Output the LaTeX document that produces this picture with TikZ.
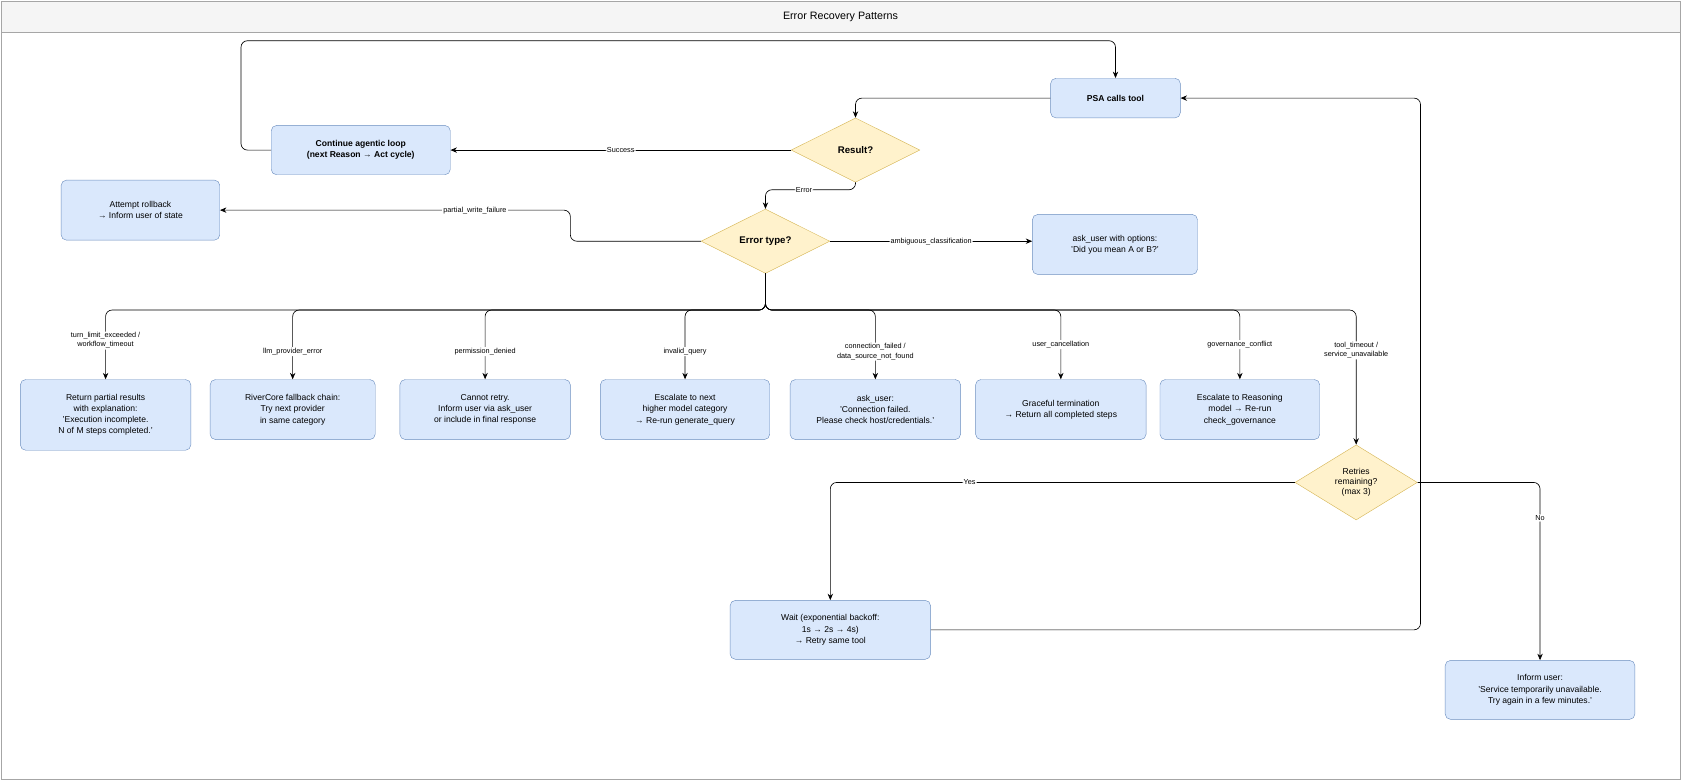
\documentclass[tikz,border=0pt]{standalone}
\usepackage{fontspec}
\setmainfont{Liberation Sans}
\usetikzlibrary{shapes.geometric,arrows.meta}
\definecolor{bfill}{HTML}{DAE8FC}
\definecolor{bdraw}{HTML}{6C8EBF}
\definecolor{yfill}{HTML}{FFF2CC}
\definecolor{ydraw}{HTML}{D6B656}
\tikzset{
  box/.style={draw=bdraw,fill=bfill,rounded corners=5pt,align=center,font=\fontsize{8}{10.5}\selectfont,inner sep=0pt},
  dec/.style={draw=ydraw,fill=yfill,diamond,aspect=2,align=center,inner sep=0pt,font=\fontsize{9}{10}\selectfont\bfseries},
  flow/.style={-{Stealth[length=6pt,width=5pt]},rounded corners=6pt,semithick},
  lbl/.style={fill=white,inner sep=1pt,align=center,font=\fontsize{6.8}{8.5}\selectfont}
}
\begin{document}
\begin{tikzpicture}[x=1pt,y=-1pt]
  \useasboundingbox (0,0) rectangle (1568,730);
  % frame and title
  \draw[gray!70,fill=gray!8] (1,1) rectangle (1567,30);
  \draw[gray!70] (1,30) rectangle (1567,727);
  \node[font=\fontsize{10}{12}\selectfont] (title) at (784,16) {Error Recovery Patterns};

  % main nodes
  \node[box,font=\fontsize{8}{10.5}\selectfont\bfseries,minimum width=121pt,minimum height=37pt] (psa) at (1040.5,91.5) {PSA calls tool};
  \node[dec,minimum width=120pt,minimum height=60pt] (res) at (798,140) {Result?};
  \node[box,font=\fontsize{8}{10.5}\selectfont\bfseries,minimum width=167pt,minimum height=46pt] (cont) at (336.5,140) {Continue agentic loop\\(next Reason → Act cycle)};
  \node[dec,minimum width=120pt,minimum height=60pt] (etype) at (714,225) {Error type?};
  \node[box,minimum width=148pt,minimum height=56pt] (roll) at (131,196) {Attempt rollback\\→ Inform user of state};
  \node[box,minimum width=154pt,minimum height=56pt] (ask) at (1040,228) {ask\_user with options:\\'Did you mean A or B?'};

  % bottom row
  \node[box,minimum width=159pt,minimum height=66pt] (part) at (98.5,387) {Return partial results\\with explanation:\\'Execution incomplete.\\N of M steps completed.'};
  \node[box,minimum width=154pt,minimum height=56pt] (llm) at (273,382) {RiverCore fallback chain:\\Try next provider\\in same category};
  \node[box,minimum width=159pt,minimum height=56pt] (perm) at (452.5,382) {Cannot retry.\\Inform user via ask\_user\\or include in final response};
  \node[box,minimum width=158pt,minimum height=56pt] (inv) at (639,382) {Escalate to next\\higher model category\\→ Re-run generate\_query};
  \node[box,minimum width=159pt,minimum height=56pt] (conn) at (816.5,382) {ask\_user:\\'Connection failed.\\Please check host/credentials.'};
  \node[box,minimum width=159pt,minimum height=56pt] (canc) at (989.5,382) {Graceful termination\\→ Return all completed steps};
  \node[box,minimum width=149pt,minimum height=56pt] (gov) at (1156.5,382) {Escalate to Reasoning\\model → Re-run\\check\_governance};
  \node[dec,font=\fontsize{8}{9.5}\selectfont,minimum width=114pt,minimum height=70pt] (retry) at (1265,450) {Retries\\remaining?\\(max 3)};
  \node[box,minimum width=187pt,minimum height=55pt] (wait) at (774.5,587.5) {Wait (exponential backoff:\\1s → 2s → 4s)\\→ Retry same tool};
  \node[box,minimum width=177pt,minimum height=55pt] (inform) at (1436.5,643.5) {Inform user:\\'Service temporarily unavailable.\\Try again in a few minutes.'};

  % connectors
  \draw[flow] (cont.west) -- ++(-28,0) |- (630,38) -| (psa.north);
  \draw[flow] (psa.west) -| (res.north);
  \draw[flow] (res.west) -- (cont.east) node[lbl,pos=0.5] {Success};
  \draw[flow] (res.south) |- (750,177) node[lbl] {Error} -| (etype.north);
  \draw[flow] (etype.west) -| (532,196) -- (roll.east);
  \node[lbl] (pwf) at (443,196) {partial\_write\_failure};
  \draw[flow] (etype.east) -- (etype.east -| ask.west) node[lbl,pos=0.5] {ambiguous\_classification};

  \draw[flow] (etype.south) -- ++(0,34) -| (part.north) node[lbl,pos=0.72] {turn\_limit\_exceeded /\\workflow\_timeout};
  \draw[flow] (etype.south) -- ++(0,34) -| (llm.north) node[lbl,pos=0.8] {llm\_provider\_error};
  \draw[flow] (etype.south) -- ++(0,34) -| (perm.north) node[lbl,pos=0.8] {permission\_denied};
  \draw[flow] (etype.south) -- ++(0,34) -| (inv.north) node[lbl,pos=0.8] {invalid\_query};
  \draw[flow] (etype.south) -- ++(0,34) -| (conn.north) node[lbl,pos=0.8] {connection\_failed /\\data\_source\_not\_found};
  \draw[flow] (etype.south) -- ++(0,34) -| (canc.north) node[lbl,pos=0.75] {user\_cancellation};
  \draw[flow] (etype.south) -- ++(0,34) -| (gov.north) node[lbl,pos=0.75] {governance\_conflict};
  \draw[flow] (etype.south) -- ++(0,34) -| (retry.north) node[lbl,pos=0.65] {tool\_timeout /\\service\_unavailable};

  \draw[flow] (retry.west) -| (wait.north) node[lbl,pos=0.35] {Yes};
  \draw[flow] (retry.east) -| (inform.north) node[lbl,pos=0.6] {No};
  \draw[flow] (wait.east) -| (1325,300) |- (psa.east);
\end{tikzpicture}
\end{document}
